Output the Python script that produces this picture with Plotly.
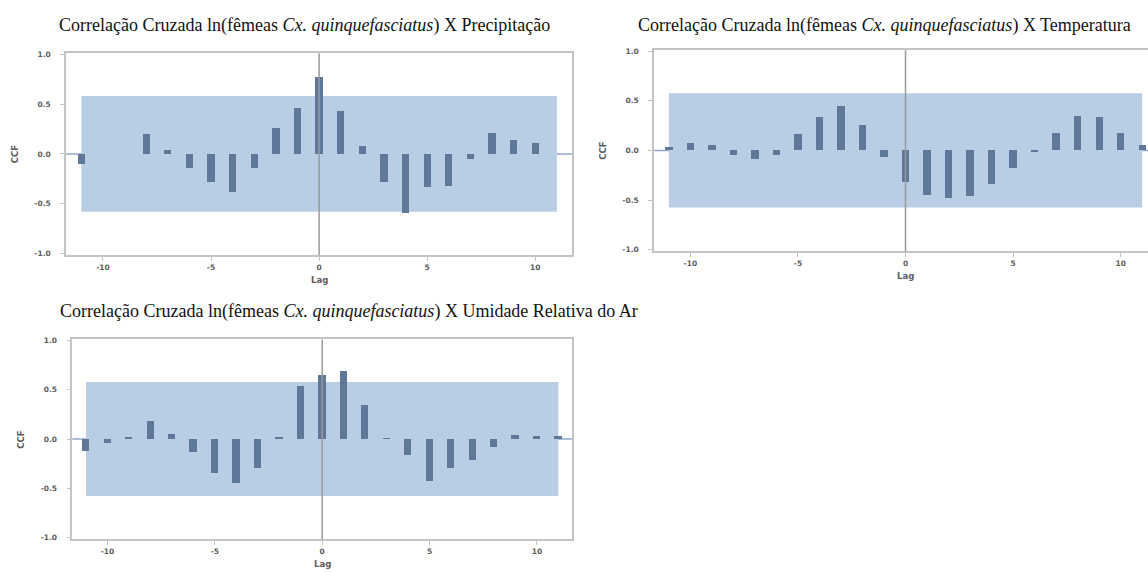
import plotly.graph_objects as go

W, H = 1148, 572

lags = list(range(-11, 12))
ccf_precip = [-0.10, 0.0, 0.0, 0.20, 0.04, -0.145, -0.285, -0.385, -0.145, 0.255, 0.455,
              0.765, 0.43, 0.08, -0.285, -0.59, -0.33, -0.32, -0.055, 0.21, 0.14, 0.11, 0.0]
ccf_temp = [0.03, 0.07, 0.057, -0.043, -0.09, -0.05, 0.167, 0.333, 0.443, 0.257, -0.073,
            -0.32, -0.447, -0.483, -0.457, -0.34, -0.18, -0.017, 0.17, 0.35, 0.333, 0.173, 0.057]
ccf_umid = [-0.123, -0.047, 0.013, 0.18, 0.05, -0.137, -0.347, -0.45, -0.297, 0.007, 0.53,
            0.64, 0.683, 0.343, 0.005, -0.167, -0.427, -0.30, -0.22, -0.083, 0.04, 0.023, 0.027]
conf_bounds = [0.58, 0.575, 0.578]

titles = [
    "Correlação Cruzada ln(fêmeas <i>Cx. quinquefasciatus</i>) X Precipitação",
    "Correlação Cruzada ln(fêmeas <i>Cx. quinquefasciatus</i>) X Temperatura",
    "Correlação Cruzada ln(fêmeas <i>Cx. quinquefasciatus</i>) X Umidade Relativa do Ar",
]
x_tickvals = [-10, -5, 0, 5, 10]
x_ticktext = ["-10", "-5", "0", "5", "10"]
y_tickvals = [-1.0, -0.5, 0.0, 0.5, 1.0]
y_ticktext = ["-1.0", "-0.5", "0.0", "0.5", "1.0"]
y_title = "CCF"
x_title = "Lag"

panels = [
    dict(l=66, r=572, t=50.7, b=255, xr=[-11.71, 11.70], mirror=True,
         title_xy=(304, 23), data=ccf_precip, conf=conf_bounds[0]),
    dict(l=654, r=1148, t=47.7, b=251, xr=[-11.69, 11.27], mirror=False,
         title_xy=(884, 23), data=ccf_temp, conf=conf_bounds[1]),
    dict(l=72.3, r=572.3, t=340, b=542, xr=[-11.64, 11.65], mirror=True,
         title_xy=(349, 312), data=ccf_umid, conf=conf_bounds[2]),
]

BAR = "#5f7799"
BAND = "#b9cde5"
ZERO = "#93a9c9"
FRAME = "#c4c4c4"
TICKF = dict(family="DejaVu Sans", size=7.5, color="#5c5c5c", weight="bold")
LABF = dict(family="DejaVu Sans", size=8.5, color="#5c5c5c", weight="bold")

fig = go.Figure()
shapes, annots = [], []
for i, p in enumerate(panels):
    n = "" if i == 0 else str(i + 1)
    xa, ya = "x" + n, "y" + n
    fig.add_trace(go.Bar(x=lags, y=p["data"], width=0.34, marker=dict(color=BAR, line=dict(width=0)),
                         xaxis=xa, yaxis=ya, showlegend=False))
    dom_x = [p["l"] / W, min(p["r"] / W, 1.0)]
    dom_y = [1 - p["b"] / H, 1 - p["t"] / H]
    fig.update_layout(**{
        "xaxis" + n: dict(domain=dom_x, range=p["xr"], anchor=ya, tickvals=x_tickvals, ticktext=x_ticktext,
                          showgrid=False, zeroline=False, showline=True, linecolor=FRAME, linewidth=1.5,
                          mirror=True, ticks="outside", ticklen=4, tickcolor=FRAME, tickfont=TICKF),
        "yaxis" + n: dict(domain=dom_y, range=[-1.017, 1.01], anchor=xa, tickvals=y_tickvals, ticktext=y_ticktext,
                          showgrid=False, zeroline=False, showline=True, linecolor=FRAME, linewidth=1.5,
                          mirror=p["mirror"], ticks="outside", ticklen=4, tickcolor=FRAME, tickfont=TICKF,
                          ticklabelstandoff=8),
    })
    shapes.append(dict(type="rect", xref=xa, yref=ya, x0=lags[0], x1=lags[-1], y0=-p["conf"], y1=p["conf"],
                       fillcolor=BAND, line=dict(width=0), layer="below"))
    shapes.append(dict(type="line", xref=xa + " domain", yref=ya, x0=0, x1=1, y0=0, y1=0,
                       line=dict(color=ZERO, width=1.5), layer="below"))
    shapes.append(dict(type="line", xref=xa, yref=ya + " domain", x0=0, x1=0, y0=0, y1=1,
                       line=dict(color="#999999", width=1.5), layer="above"))
    tx, ty = p["title_xy"]
    annots.append(dict(text=titles[i], x=tx / W, y=1 - ty / H, xref="paper", yref="paper", showarrow=False,
                       xanchor="center", yanchor="middle",
                       font=dict(family="Liberation Serif", size=18, color="#111111")))
    annots.append(dict(text=y_title, x=(p["l"] - 51) / W, y=1 - ((p["t"] + p["b"]) / 2) / H, xref="paper",
                       yref="paper", showarrow=False, textangle=-90, xanchor="center", yanchor="middle",
                       font=LABF))
    xc = p["l"] + (0 - p["xr"][0]) / (p["xr"][1] - p["xr"][0]) * (min(p["r"], W) - p["l"])
    annots.append(dict(text=x_title, x=xc / W, y=1 - (p["b"] + 25) / H, xref="paper", yref="paper",
                       showarrow=False, xanchor="center", yanchor="middle", font=LABF))

fig.update_layout(width=W, height=H, margin=dict(l=0, r=0, t=0, b=0), paper_bgcolor="white",
                  plot_bgcolor="white", shapes=shapes, annotations=annots, bargap=0)
fig.write_html("out.html", config={"displayModeBar": False},
               post_script="document.body.style.margin='0px';document.body.style.overflow='hidden';")
